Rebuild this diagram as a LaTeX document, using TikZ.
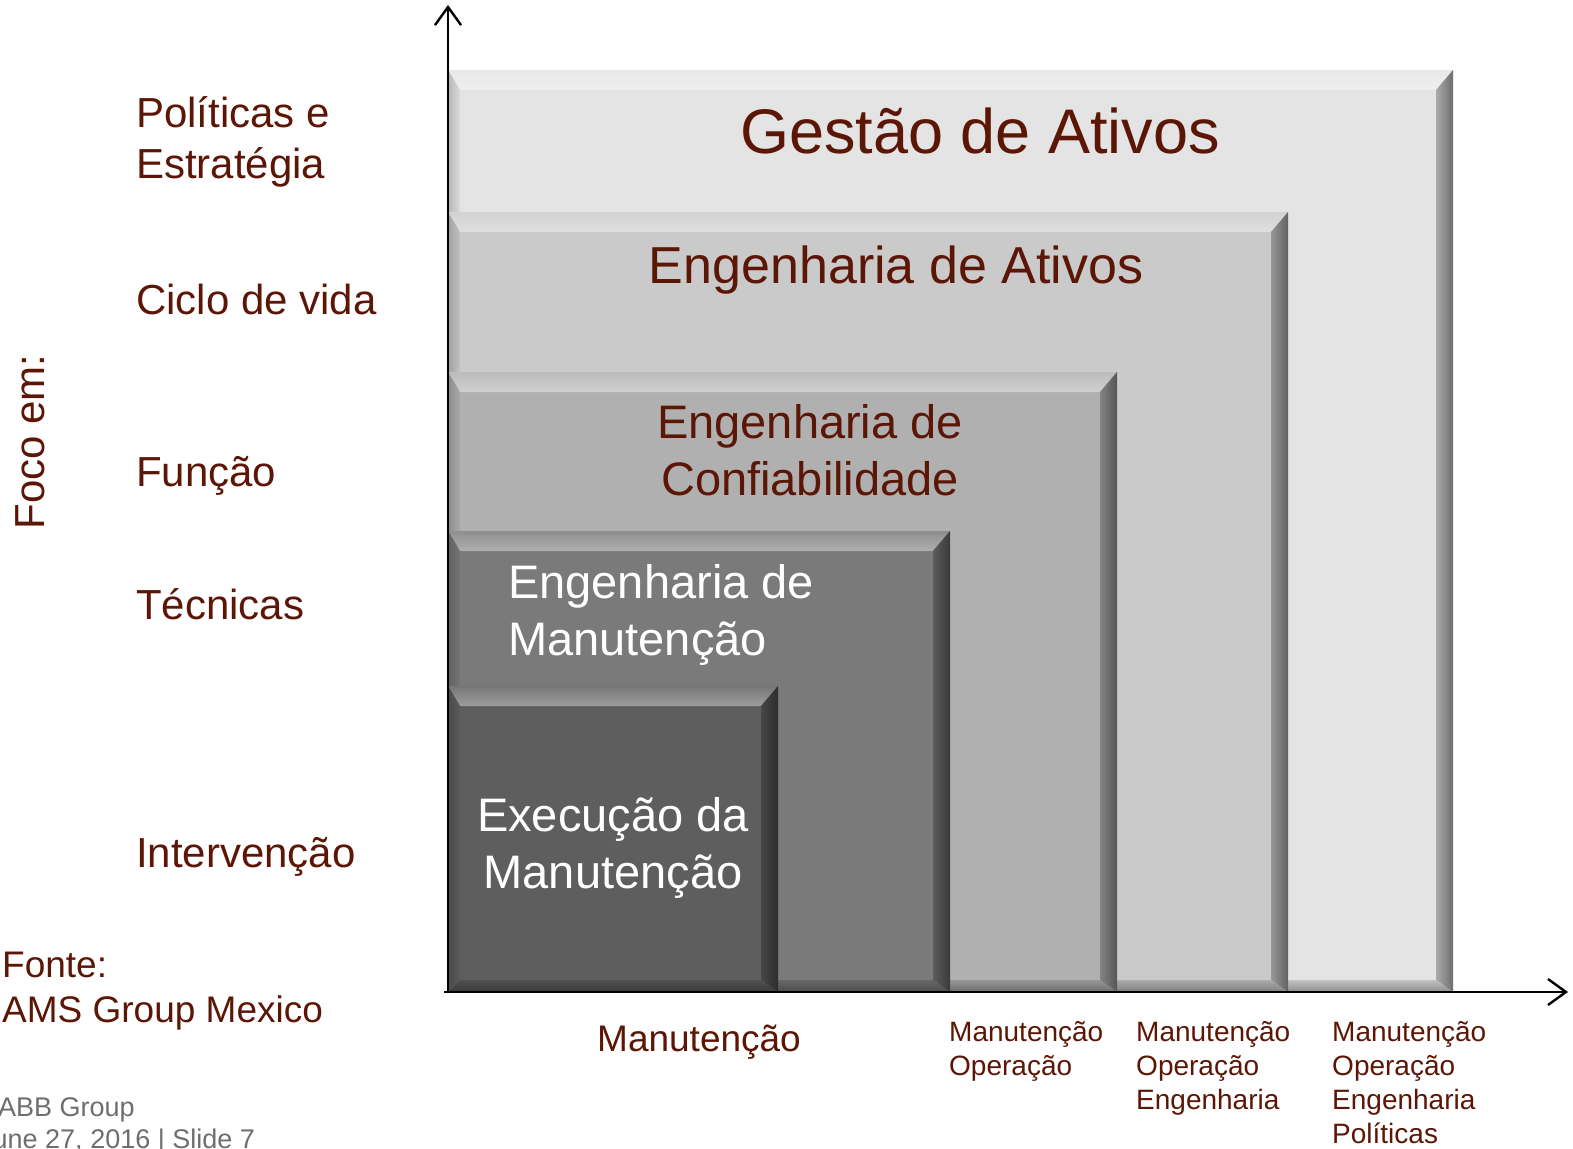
\documentclass[tikz,border=0pt]{standalone}
\usepackage{fontspec}
\setmainfont{Liberation Sans}
\usepackage{tikz}
\usetikzlibrary{arrows.meta,calc}

\definecolor{focoBrown}{RGB}{92,22,5}
\definecolor{slideGray}{RGB}{110,110,110}
\definecolor{levelA}{RGB}{228,228,228}
\definecolor{levelB}{RGB}{202,202,202}
\definecolor{levelC}{RGB}{176,176,176}
\definecolor{levelD}{RGB}{122,122,122}
\definecolor{levelE}{RGB}{94,94,94}

% bevelled box: x1, y1 (top), x2, y2 (bottom), colour
\newcommand{\bevelbox}[5]{%
    \fill[#5] (#1,#2) rectangle (#3,#4);
    \shade[top color=#5!85!white, bottom color=#5!60!white] (#1,#2) -- (#3,#2) -- (#3-17,#2+20) -- (#1+12,#2+20) -- cycle;
    \shade[left color=#5!75!black, right color=#5!48!black] (#3,#2) -- (#3,#4) -- (#3-17,#4-12) -- (#3-17,#2+20) -- cycle;
    \shade[top color=#5!85!black, bottom color=#5!62!black] (#1,#4) -- (#3,#4) -- (#3-17,#4-12) -- (#1+12,#4-12) -- cycle;
    \shade[left color=#5!80!black, right color=#5!96!black] (#1,#2) -- (#1+12,#2+20) -- (#1+12,#4-12) -- (#1,#4) -- cycle;
}

\begin{document}
\begin{tikzpicture}[
    x=1pt, y=-1pt,
    >={Straight Barb[length=18pt,width=26pt,line width=2.4pt]},
    every node/.style={inner sep=0pt},
    axis/.style={line width=2.6pt, ->},
    focus/.style={text=focoBrown, font=\fontsize{42}{51}\selectfont, anchor=west, align=left},
    scope/.style={text=focoBrown, font=\fontsize{28}{34}\selectfont, anchor=north west, align=left},
    darkLabel/.style={text=focoBrown, align=center},
    lightLabel/.style={text=white, font=\fontsize{47}{57}\selectfont}
]
\useasboundingbox (0,0) rectangle (1573,1148);

% nested levels, biggest first
\bevelbox{448}{70}{1453}{992}{levelA}
\bevelbox{448}{212}{1288}{992}{levelB}
\bevelbox{448}{372}{1117}{992}{levelC}
\bevelbox{448}{531}{950}{992}{levelD}
\bevelbox{448}{686}{778}{992}{levelE}

\node[darkLabel, font=\fontsize{63}{76}\selectfont] (gestao) at (980,131) {Gestão de Ativos};
\node[darkLabel, font=\fontsize{52}{62}\selectfont] (engAtivos) at (896,270) {Engenharia de Ativos};
\node[darkLabel, font=\fontsize{47}{57}\selectfont] (engConf) at (810,450) {Engenharia de\\Confiabilidade};
\node[lightLabel, anchor=west, align=left] (engManut) at (508,615) {Engenharia de\\Manutenção};
\node[lightLabel, align=center] (execManut) at (613,848) {Execução da\\Manutenção};

% axes
\coordinate (origin) at (448,992);
\coordinate (yEnd) at (448,5);
\coordinate (xStart) at (444,992);
\coordinate (xEnd) at (1568,992);
\draw[axis] (origin) -- (yEnd);
\draw[axis] (xStart) -- (xEnd);

% vertical axis labels
\node[text=focoBrown, font=\fontsize{42}{51}\selectfont, rotate=90] (foco) at (30,442) {Foco em:};
\node[focus] (politicas) at (136,142) {Políticas e\\Estratégia};
\node[focus] (ciclo) at (136,299) {Ciclo de vida};
\node[focus] (funcao) at (136,476) {Função};
\node[focus] (tecnicas) at (136,604) {Técnicas};
\node[focus] (intervencao) at (136,857) {Intervenção};

% horizontal axis labels
\node[text=focoBrown, font=\fontsize{37}{44}\selectfont] (manut) at (699,1042) {Manutenção};
\node[scope] (scopeB) at (949,1021) {Manutenção\\Operação};
\node[scope] (scopeC) at (1136,1021) {Manutenção\\Operação\\Engenharia};
\node[scope] (scopeD) at (1332,1021) {Manutenção\\Operação\\Engenharia\\Políticas};

% source and footer
\node[focus, font=\fontsize{37}{45}\selectfont] (fonte) at (2,991) {Fonte:\\AMS Group Mexico};
\node[text=slideGray, font=\fontsize{27}{32}\selectfont, anchor=west] (abb) at (-2,1110) {ABB Group};
\node[text=slideGray, font=\fontsize{27}{32}\selectfont, anchor=west] (slide) at (-21,1142) {June 27, 2016 | Slide 7};

\end{tikzpicture}
\end{document}
